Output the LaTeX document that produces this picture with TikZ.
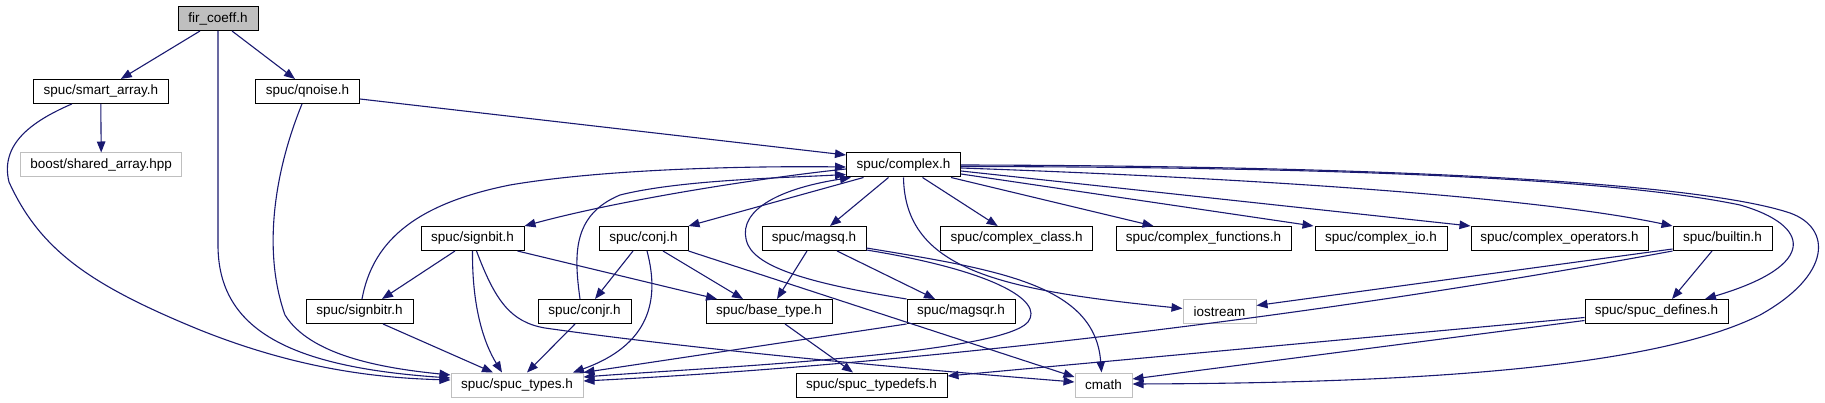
\documentclass[tikz,border=0pt]{standalone}
\usepackage{fontspec}
\setmainfont{Liberation Sans}
\usetikzlibrary{arrows.meta}
\definecolor{edgeblue}{HTML}{191970}
\definecolor{extgray}{HTML}{BFBFBF}
\tikzset{
  nd/.style={draw=black, line width=1pt, fill=white, inner sep=0pt, minimum height=24pt,
    font=\fontsize{13.5pt}{15pt}\selectfont},
  ext/.style={nd, draw=extgray},
  root/.style={nd, fill=extgray},
  dep/.style={draw=edgeblue, line width=1.1pt, -{Triangle[length=11pt,width=8.5pt]}, edgeblue},
}
\begin{document}
\begin{tikzpicture}[x=1pt,y=-1pt]
\useasboundingbox (0,0) rectangle (1825,403);
% nodes
\node[root, minimum width=80pt]  (fir)      at (218,18.5)   {fir\_coeff.h};
\node[nd,  minimum width=135pt]  (smart)    at (100.8,91.5) {spuc/smart\_array.h};
\node[nd,  minimum width=104pt]  (qnoise)   at (307.5,91.5) {spuc/qnoise.h};
\node[ext, minimum width=161pt]  (boost)    at (101.2,165)  {boost/shared\_array.hpp};
\node[nd,  minimum width=114pt]  (complex)  at (903.5,165)  {spuc/complex.h};
\node[nd,  minimum width=103pt]  (signbit)  at (472.5,238.5) {spuc/signbit.h};
\node[nd,  minimum width=89pt]   (conj)     at (643.5,238.5) {spuc/conj.h};
\node[nd,  minimum width=104pt]  (magsq)    at (814,238.5)  {spuc/magsq.h};
\node[nd,  minimum width=152pt]  (cclass)   at (1016.7,238.5) {spuc/complex\_class.h};
\node[nd,  minimum width=175pt]  (cfunc)    at (1203.5,238.5) {spuc/complex\_functions.h};
\node[nd,  minimum width=132pt]  (cio)      at (1381,238.5) {spuc/complex\_io.h};
\node[nd,  minimum width=177pt]  (cops)     at (1559.5,238.5) {spuc/complex\_operators.h};
\node[nd,  minimum width=99pt]   (builtin)  at (1722.5,238.5) {spuc/builtin.h};
\node[nd,  minimum width=107pt]  (signbitr) at (359.5,311.5) {spuc/signbitr.h};
\node[nd,  minimum width=93pt]   (conjr)    at (584.5,311.5) {spuc/conjr.h};
\node[nd,  minimum width=126pt]  (basetype) at (769,311.5)  {spuc/base\_type.h};
\node[nd,  minimum width=108pt]  (magsqr)   at (961,311.5)  {spuc/magsqr.h};
\node[ext, minimum width=73pt]   (iostream) at (1219.5,311.5) {iostream};
\node[nd,  minimum width=143pt]  (defines)  at (1656.5,311.5) {spuc/spuc\_defines.h};
\node[ext, minimum width=132pt]  (types)    at (517,385)    {spuc/spuc\_types.h};
\node[nd,  minimum width=151pt]  (typedefs) at (871.5,385)  {spuc/spuc\_typedefs.h};
\node[ext, minimum width=57pt]   (cmath)    at (1103.5,385) {cmath};
% edges
\draw[dep] ([xshift=-18pt]fir.south) -- ([xshift=20pt]smart.north);
\draw[dep] ([xshift=14pt]fir.south) -- ([xshift=-12.5pt]qnoise.north);
\draw[dep] (fir.south) -- (218,245) .. controls (218,330) and (290,367) .. ([yshift=7pt]types.west);
\draw[dep] (smart.south) -- (boost.north);
\draw[dep] ([xshift=-29pt]smart.south) .. controls (30,122) and (0,145) .. (9,182)
  .. controls (40,250) and (90,285) .. (200,330) .. controls (300,370) and (380,378) .. ([yshift=5pt]types.west);
\draw[dep] ([yshift=-7.5pt]qnoise.east) -- ([yshift=10pt]complex.west);
\draw[dep] ([xshift=-5.5pt]qnoise.south) .. controls (275,170) and (262,250) .. (285,315)
  .. controls (310,355) and (380,368) .. ([yshift=10pt]types.west);
\draw[dep] ([yshift=-4pt]complex.west) .. controls (760,178) and (620,200) .. (signbit.north east);
\draw[dep] ([xshift=-40pt]complex.south) -- (conj.north east);
\draw[dep] ([xshift=-15pt]complex.south) -- ([xshift=16pt]magsq.north);
\draw[dep] ([xshift=19pt]complex.south) -- ([xshift=-19pt]cclass.north);
\draw[dep] ([xshift=-10pt]complex.south east) -- ([xshift=-50pt]cfunc.north);
\draw[dep] ([yshift=-9pt]complex.east) -- ([xshift=-1pt]cio.north west);
\draw[dep] ([yshift=-6pt]complex.east) -- (cops.north west);
\draw[dep] ([yshift=-3pt]complex.east) .. controls (1300,180) and (1550,200) .. (builtin.north west);
\draw[dep] ([yshift=-1.5pt]complex.east) .. controls (1300,167) and (1600,176) .. (1740,205)
  .. controls (1810,225) and (1820,265) .. ([xshift=48.5pt]defines.north);
\draw[dep] (complex.east) .. controls (1400,166) and (1700,183) .. (1790,213)
  .. controls (1832,228) and (1832,275) .. (1760,315) .. controls (1650,370) and (1400,383) .. ([yshift=1pt]cmath.east);
\draw[dep] (complex.south) .. controls (905,270) and (1000,290) .. ([yshift=3pt]iostream.west);
\draw[dep] ([xshift=-17.5pt]signbit.south) -- ([xshift=22.5pt]signbitr.north);
\draw[dep] (signbit.south) .. controls (472,310) and (485,345) .. ([xshift=-15pt]types.north);
\draw[dep] ([xshift=4pt]signbit.south) .. controls (495,300) and (510,322) .. (545,328)
  .. controls (700,350) and (900,368) .. ([yshift=3pt]cmath.west);
\draw[dep] ([xshift=45pt]signbit.south) -- ([xshift=-52pt]basetype.north);
\draw[dep] ([xshift=2.5pt]signbitr.north) .. controls (372,245) and (410,205) .. (510,185)
  .. controls (610,168) and (760,166) .. ([yshift=-2pt]complex.west);
\draw[dep] ([xshift=23.5pt]signbitr.south) -- ([xshift=-24pt]types.north);
\draw[dep] ([xshift=-10.5pt]conj.south) -- ([xshift=10.5pt]conjr.north);
\draw[dep] ([xshift=3.5pt]conj.south) .. controls (660,300) and (650,345) .. ([xshift=56pt]types.north);
\draw[dep] ([xshift=19.5pt]conj.south) -- ([xshift=-26pt]basetype.north);
\draw[dep] (conj.south east) -- ([yshift=8pt]cmath.west);
\draw[dep] ([xshift=-4.5pt]conjr.north) .. controls (574,255) and (572,215) .. (620,195)
  .. controls (680,180) and (780,178) .. ([yshift=3pt]complex.south west);
\draw[dep] ([xshift=-9.5pt]conjr.south) -- ([xshift=10pt]types.north);
\draw[dep] ([xshift=-7pt]magsq.south) -- ([xshift=8pt]basetype.north);
\draw[dep] ([xshift=23pt]magsq.south) -- ([xshift=-26pt]magsqr.north);
\draw[dep] ([yshift=1pt]magsq.south east) .. controls (990,270) and (1045,300) .. (1028,322)
  .. controls (1000,355) and (700,368) .. ([yshift=8pt]types.east);
\draw[dep] ([yshift=3pt]magsq.south east) .. controls (1000,270) and (1095,285) .. ([xshift=-2pt]cmath.north);
\draw[dep] (magsqr.north west) .. controls (820,285) and (760,270) .. (748,245)
  .. controls (735,215) and (770,190) .. ([xshift=5pt]complex.south west);
\draw[dep] (magsqr.south west) -- (types.north east);
\draw[dep] ([xshift=16pt]basetype.south) -- ([xshift=-18.5pt]typedefs.north);
\draw[dep] ([yshift=-10.5pt]builtin.west) -- ([yshift=6pt]iostream.east);
\draw[dep] (builtin.south west) .. controls (1300,320) and (900,365) .. ([yshift=4pt]types.east);
\draw[dep] ([xshift=-10.5pt]builtin.south) -- ([xshift=15.5pt]defines.north);
\draw[dep] ([yshift=-6pt]defines.west) -- ([yshift=9pt]typedefs.east);
\draw[dep] ([yshift=-9pt]defines.west) -- ([yshift=6pt]cmath.east);
\end{tikzpicture}
\end{document}
